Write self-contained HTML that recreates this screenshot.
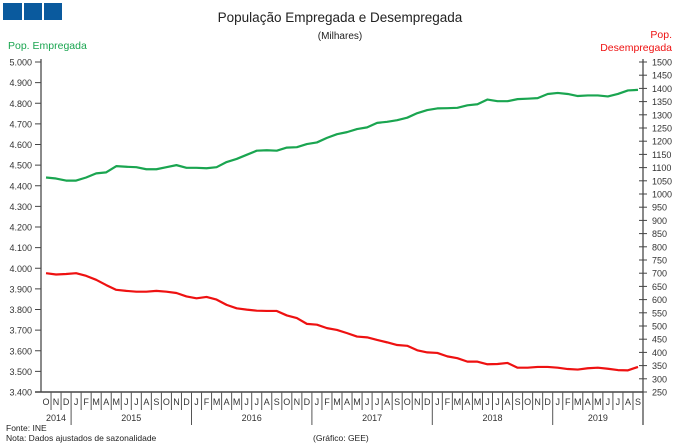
<!DOCTYPE html>
<html><head><meta charset="utf-8"><style>
body{margin:0;background:#fff;}
svg{display:block;font-family:"Liberation Sans",sans-serif;}
</style></head><body>
<svg id="chart" width="680" height="448" viewBox="0 0 680 448">
<rect x="3" y="3" width="19" height="17" fill="#0a5a9e"/>
<rect x="24" y="3" width="18" height="17" fill="#0a5a9e"/>
<rect x="44" y="3" width="18" height="17" fill="#0a5a9e"/>
<text x="340" y="22" font-size="13.5" text-anchor="middle" fill="#222">População Empregada e Desempregada</text>
<text x="340" y="39" font-size="10" text-anchor="middle" fill="#222">(Milhares)</text>
<text x="8" y="49" font-size="10.5" fill="#1aa550">Pop. Empregada</text>
<text x="672" y="38" font-size="10.5" fill="#ee1111" text-anchor="end">Pop.</text>
<text x="672" y="51" font-size="10.5" fill="#ee1111" text-anchor="end">Desempregada</text>
<g id="axes"></g>
<g id="series"></g>
<text x="6" y="431" font-size="8.5" fill="#222">Fonte: INE</text>
<text x="6" y="441" font-size="8.5" fill="#222">Nota: Dados ajustados de sazonalidade</text>
<text x="313" y="441" font-size="8.5" fill="#222">(Gráfico: GEE)</text>
</svg>
<script>
const months = ["O","N","D","J","F","M","A","M","J","J","A","S","O","N","D","J","F","M","A","M","J","J","A","S","O","N","D","J","F","M","A","M","J","J","A","S","O","N","D","J","F","M","A","M","J","J","A","S","O","N","D","J","F","M","A","M","J","J","A","S"];
const years = ["2014","2015","2016","2017","2018","2019"];
const employed = [4440,4435,4425,4425,4440,4460,4465,4495,4492,4490,4480,4480,4490,4500,4487,4487,4485,4490,4515,4530,4550,4570,4572,4570,4585,4587,4602,4610,4632,4650,4660,4675,4683,4705,4710,4718,4730,4752,4767,4775,4776,4778,4790,4795,4818,4810,4810,4820,4822,4825,4845,4850,4845,4835,4838,4838,4833,4845,4862,4865];
const unemployed = [700,695,697,700,690,675,655,637,633,630,630,633,630,625,612,605,610,600,580,567,562,558,557,557,540,530,508,505,492,485,473,460,457,447,438,428,425,408,400,398,385,378,365,365,355,356,360,342,342,345,345,342,337,335,340,342,338,333,332,345];
const leftTicks = ["3.400","3.500","3.600","3.700","3.800","3.900","4.000","4.100","4.200","4.300","4.400","4.500","4.600","4.700","4.800","4.900","5.000"];
const rightTicks = [250,300,350,400,450,500,550,600,650,700,750,800,850,900,950,1000,1050,1100,1150,1200,1250,1300,1350,1400,1450,1500];
const NS="http://www.w3.org/2000/svg";
const X0=41,X1=643,Y0=392,Y1=62;
const mw=(X1-X0)/months.length;
const xS=i=>X0+mw*(i+0.5);
const yL=v=>Y0-(v-3400)/1600*(Y0-Y1);
const yR=v=>Y0-(v-250)/1250*(Y0-Y1);
const axes=document.getElementById('axes'), ser=document.getElementById('series');
function mk(tag,attrs,parent){const e=document.createElementNS(NS,tag);for(const k in attrs)e.setAttribute(k,attrs[k]);parent.appendChild(e);return e;}
const ax='#8a8a8a';
let e;
e=mk('line',{x1:X0,y1:Y1-3,x2:X0,y2:Y0,stroke:ax,'stroke-width':2},axes);


e=mk('line',{x1:X1,y1:Y1-3,x2:X1,y2:Y0+33,stroke:ax,'stroke-width':2},axes);


e=mk('line',{x1:X0-6,y1:Y0,x2:X1,y2:Y0,stroke:'#444','stroke-width':1.5},axes);


leftTicks.forEach((t,i)=>{const v=3400+i*100,y=yL(v);
 mk('line',{x1:X0-6,y1:y,x2:X0,y2:y,stroke:'#444','stroke-width':1},axes);
 e=mk('text',{x:X0-9,y:y+3.5,'font-size':9,'text-anchor':'end',fill:'#333'},axes);e.textContent=t;
 
 });
rightTicks.forEach(v=>{const y=yR(v);
 mk('line',{x1:X1-4,y1:y,x2:X1+4,y2:y,stroke:'#444','stroke-width':1},axes);
 e=mk('text',{x:X1+9,y:y+3.5,'font-size':9,fill:'#333'},axes);e.textContent=v;
 
 });
months.forEach((m,i)=>{const xl=X0+mw*i;
 const isJan=m==="J"&&i>0&&months[i-1]==="D";
 if(i>0)mk('line',{x1:xl,y1:Y0,x2:xl,y2:isJan?425:410,stroke:'#555','stroke-width':1},axes);
 e=mk('text',{x:xS(i),y:Y0+13,'font-size':9,'text-anchor':'middle',fill:'#333'},axes);e.textContent=m;
 
 });
const yStarts=[0,3,15,27,39,51];
years.forEach((yr,k)=>{const s=yStarts[k],en=k<years.length-1?yStarts[k+1]:months.length;
 e=mk('text',{x:X0+mw*(s+en)/2,y:Y0+29,'font-size':9,'text-anchor':'middle',fill:'#333'},axes);e.textContent=yr;
 
 });
e=mk('polyline',{points:employed.map((v,i)=>xS(i)+','+yL(v)).join(' '),fill:'none',stroke:'#1aa550','stroke-width':2.2,'stroke-linejoin':'round'},ser);


e=mk('polyline',{points:unemployed.map((v,i)=>xS(i)+','+yR(v)).join(' '),fill:'none',stroke:'#ee1111','stroke-width':2.2,'stroke-linejoin':'round'},ser);


</script>
</body></html>
